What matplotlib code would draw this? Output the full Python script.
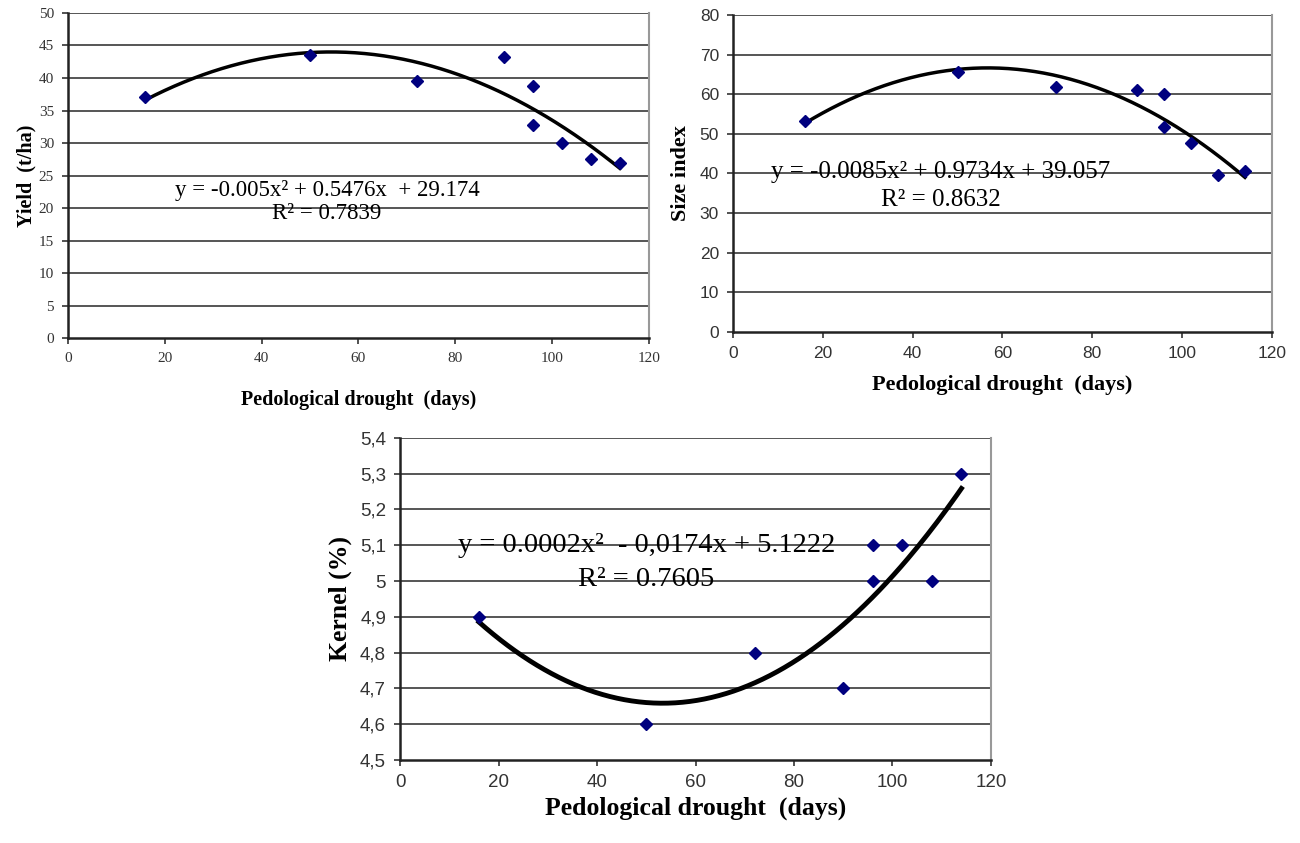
import numpy as np
import matplotlib
matplotlib.use('Agg')
import matplotlib.pyplot as plt
from matplotlib.ticker import FixedLocator, FuncFormatter

# drought duration (days) for the 9 observations
drought = [16, 50, 72, 90, 96, 96, 102, 108, 114]
yield_tha = [37.0, 43.5, 39.6, 43.2, 38.8, 32.7, 30.0, 27.5, 27.0]
size_index = [53.2, 65.5, 61.8, 61.0, 60.0, 51.8, 47.7, 39.5, 40.7]
kernel_pct = [4.9, 4.6, 4.8, 4.7, 5.1, 5.0, 5.1, 5.0, 5.3]

eq_yield = ['y = -0.005x² + 0.5476x  + 29.174', 'R² = 0.7839']
eq_size = ['y = -0.0085x² + 0.9734x + 39.057', 'R² = 0.8632']
eq_kernel = ['y = 0.0002x²  - 0,0174x + 5.1222', 'R² = 0.7605']

xlab = 'Pedological drought  (days)'
serif = 'Liberation Serif'
sans = 'Liberation Sans'
navy = '#00007f'

fig = plt.figure(figsize=(13, 8.43), dpi=100)


def panel(rect, y, ylim, ystep, ylabel, eq, eqpos, tickfont, tsize, lsize, esize, fmt=None, lw=2.5):
    ax = fig.add_axes(rect)
    x = np.array(drought, float)
    yv = np.array(y, float)
    c = np.polyfit(x, yv, 2)
    xs = np.linspace(x.min(), x.max(), 200)
    ax.plot(xs, np.polyval(c, xs), color='black', lw=lw, zorder=3)
    ax.plot(x, yv, 'D', color=navy, ms=6, zorder=4)
    ax.set_xlim(0, 120)
    ax.set_ylim(*ylim)
    yt = np.arange(ylim[0], ylim[1] + ystep / 2, ystep)
    ax.yaxis.set_major_locator(FixedLocator(yt))
    ax.xaxis.set_major_locator(FixedLocator(np.arange(0, 121, 20)))
    if fmt:
        ax.yaxis.set_major_formatter(FuncFormatter(fmt))
    for v in yt[1:]:
        ax.axhline(v, color='#555555', lw=1.4, zorder=1)
    for s in ['left', 'bottom']:
        ax.spines[s].set_color('#222222')
        ax.spines[s].set_linewidth(1.8)
    ax.spines['right'].set_color('#999999')
    ax.spines['right'].set_linewidth(1.5)
    ax.spines['top'].set_visible(False)
    ax.tick_params(direction='out', length=4, width=1.2, color='#333333',
                   labelsize=tsize, labelcolor='#333333', pad=6)
    for t in ax.get_xticklabels() + ax.get_yticklabels():
        t.set_fontfamily(tickfont)
    ax.set_ylabel(ylabel, fontfamily=serif, fontweight='bold', fontsize=lsize)
    ax.set_xlabel(xlab, fontfamily=serif, fontweight='bold', fontsize=lsize)
    ax.text(eqpos[0], eqpos[1], eq[0], ha='center', va='center',
            fontfamily=serif, fontsize=esize, zorder=5)
    ax.text(eqpos[0], eqpos[2], eq[1], ha='center', va='center',
            fontfamily=serif, fontsize=esize, zorder=5)
    return ax


ax1 = panel([0.0523, 0.5990, 0.4469, 0.3856], yield_tha, (0, 50), 5, 'Yield  (t/ha)',
            eq_yield, (53.5, 22.7, 19.2), serif, 11, 14.5, 16.5)
ax1.xaxis.labelpad = 18
ax1.yaxis.labelpad = 2

ax2 = panel([0.5638, 0.6062, 0.4146, 0.3760], size_index, (0, 80), 10, 'Size index',
            eq_size, (46.3, 40.4, 33.3), sans, 12.5, 16, 18)
ax2.xaxis.labelpad = 10
ax2.yaxis.labelpad = 6


def comma(v, pos):
    s = ('%.1f' % v).replace('.', ',')
    return s[:-2] if s.endswith(',0') else s


ax3 = panel([0.3077, 0.0985, 0.4546, 0.3820], kernel_pct, (4.5, 5.4), 0.1, 'Kernel (%)',
            eq_kernel, (50, 5.10, 5.005), sans, 13.5, 18.5, 20.5, fmt=comma, lw=3.5)
ax3.xaxis.labelpad = 4
ax3.yaxis.labelpad = 6

fig.savefig('out.png', dpi=100, facecolor='white')
